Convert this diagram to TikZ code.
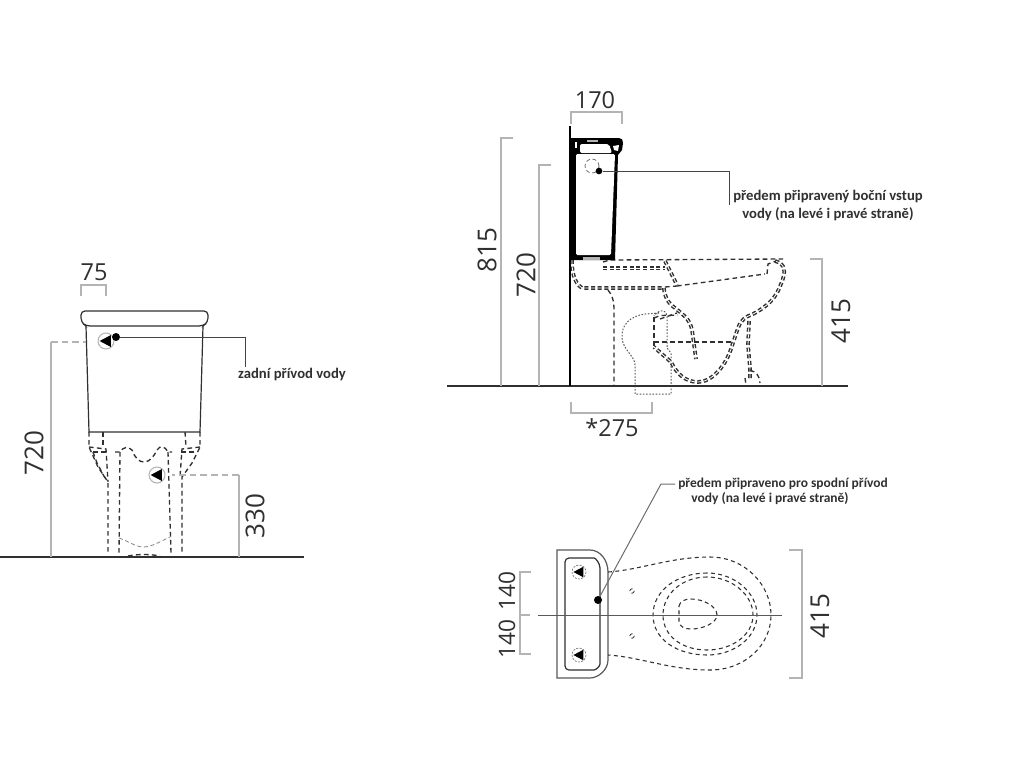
\documentclass[tikz,border=0pt]{standalone}
\usepackage{fontspec}
\setmainfont{Open Sans}
\newfontfamily\labelfont{Carlito}
\usepackage{tikz}
\usetikzlibrary{positioning}
\definecolor{dimgrey}{HTML}{B4B4B4}
\definecolor{inkgrey}{HTML}{303030}

% Inlet symbol: circle with a black triangle
\newcommand{\inletmark}[4]{%
    \draw[#4] (#1,#2) circle (#3);
    \fill[black] (#1-0.8*#3,#2) -- (#1+0.62*#3,#2-0.75*#3) -- (#1+0.62*#3,#2+0.75*#3) -- cycle;
}

\begin{document}
\begin{tikzpicture}[x=0.75pt,y=-0.75pt]

    % Custom styles
    \tikzstyle{dimline} = [draw=dimgrey, line width=0.9pt]
    \tikzstyle{dimdash} = [draw=dimgrey, line width=0.9pt, dash pattern=on 5pt off 3pt]
    \tikzstyle{dimtext} = [font=\fontsize{17.6}{20}\selectfont, text=inkgrey, inner sep=0pt]
    \tikzstyle{dimtextup} = [font=\fontsize{19.5}{22}\selectfont, text=inkgrey, inner sep=0pt, rotate=90]
    \tikzstyle{plain} = [font=\labelfont\bfseries\fontsize{11}{13.5}\selectfont, align=center, inner sep=0pt, text=inkgrey]
    \tikzstyle{floorline} = [draw=inkgrey, line width=1.9pt]
    \tikzstyle{outline} = [draw=inkgrey, line width=0.9pt]
    \tikzstyle{leader} = [draw=inkgrey!90, line width=0.75pt]
    \tikzstyle{hidden} = [draw=inkgrey, line width=1pt, dash pattern=on 3.5pt off 2.5pt]
    \tikzstyle{hiddenplan} = [draw=inkgrey, line width=0.8pt, dash pattern=on 3pt off 2.5pt]
    \tikzstyle{hiddenthin} = [draw=inkgrey, line width=0.6pt, dash pattern=on 3pt off 2pt]
    \tikzstyle{ladder} = [draw=inkgrey, line width=1.1pt, dash pattern=on 3pt off 2pt, double=white, double distance=0.6pt]
    \tikzstyle{dotted pipe} = [draw=inkgrey!80, line width=0.75pt, dash pattern=on 1.2pt off 1.2pt]
    \tikzstyle{endpoint} = [circle, fill=black, inner sep=0pt, minimum size=6pt]

    \useasboundingbox (0,0) rectangle (1024,768);
    \fill[white] (0,0) rectangle (1024,768);

    % Front view
    \draw[floorline] (0,557) -- (304,557);
    \draw[dimline] (81,296) -- (81,285) -- (106,285) -- (106,296);
    \node[dimtext] (frontwidth) at (94,272) {75};
    \draw[outline, rounded corners=3pt] (86,326) -- (81,322) -- (81,311) -- (208,311) -- (208,322) -- (203,326) -- cycle;
    \draw[outline] (86,326) -- (89,432) -- (200,432) -- (203,326);
    \inletmark{106}{341}{8}{draw=dimgrey, line width=0.8pt}
    \inletmark{157}{475}{8}{draw=dimgrey, line width=0.8pt}

    \draw[hidden] (89,432) -- (89,447) -- (98,467) -- (108,482) -- (108,553);
    \draw[hidden] (200,432) -- (200,447) -- (192,463) -- (182,477) -- (182,553);
    \draw[hidden] (103,432) -- (103,447);
    \draw[hidden] (185,432) -- (186,447);
    \draw[hidden] (89,447) -- (106,449) -- (108,482);
    \draw[hidden] (93,452) -- (108,452);
    \draw[hidden] (93,452) -- (97,463) -- (106,480);
    \draw[hidden] (200,447) -- (182,449) -- (180,477);
    \draw[hidden] (194,452) -- (180,452);
    \draw[hidden] (120,452) -- (119,553);
    \draw[hidden] (168,452) -- (171,553);
    \draw[hidden] (115,452) -- (120,452) .. controls (123,447) and (128,446) .. (132,450) .. controls (135,458) and (139,462) .. (144,462) .. controls (150,462) and (154,456) .. (157,450) .. controls (160,445) and (165,446) .. (168,452) -- (172,452);
    \draw[hiddenthin, draw=inkgrey!60] (119,538) .. controls (128,541) and (136,547) .. (143,547) .. controls (152,547) and (161,541) .. (170,537);
    \draw[hidden] (128,556) .. controls (138,554) and (150,554) .. (160,556);

    % Front view dimensions
    \draw[dimline] (51,557) -- (51,342);
    \draw[dimdash] (51,342) -- (86,342);
    \node[dimtextup] (frontheight) at (34,453) {720};
    \draw[dimline] (239,557) -- (239,475);
    \draw[dimdash] (239,475) -- (172,475);
    \node[dimtextup] (frontinlet) at (255,516) {330};

    % Front view leader
    \node[endpoint] (frontdot) at (116,337) {};
    \node[plain] (frontlabel) at (292,374) {zadní přívod vody};
    \coordinate (frontbend) at (245,337);
    \coordinate (frontend) at (245,367);
    \draw[leader] (frontdot) -- (frontbend) -- (frontend);

    % Side view, dashed bowl
    \draw[hidden] (603,262) -- (610,260) -- (783,259);
    \draw[ladder] (572,260) .. controls (572,270) and (573,282) .. (582,288) -- (662,288);
    \draw[ladder] (603,268) -- (665,268);
    \draw[hidden] (608,290) .. controls (612,295) and (614,300) .. (614,310) -- (614,385);
    \draw[ladder] (665,261) -- (677,285);
    \draw[hidden] (677,286) -- (765,274);
    \draw[hidden] (665,287) -- (677,286);
    \draw[ladder] (775,261) .. controls (786,264) and (786,272) .. (781,284) .. controls (776,298) and (768,306) .. (753,314) .. controls (745,317) and (741,320) .. (738,328) -- (732,346) .. controls (726,366) and (712,382) .. (698,382) .. controls (684,382) and (676,372) .. (671,362) -- (654,347);
    \draw[hidden] (767,274) -- (768,264) -- (776,261);
    \draw[ladder] (664,288) .. controls (664,296) and (668,303) .. (675,308) .. controls (685,316) and (690,320) .. (692,330) -- (696,359);
    \draw[ladder] (749,321) -- (748,345) -- (750,368) -- (750,378);
    \draw[hidden] (750,370) .. controls (756,372) and (760,376) .. (760,383);
    \draw[hidden] (745,378) -- (746,385);
    \draw[hidden] (654,317) -- (654,346);
    \draw[hidden] (654,318) .. controls (660,314) and (668,316) .. (678,315);
    \draw[hidden] (660,319) -- (677,313);
    \draw[hidden] (654,342) -- (733,342);
    \draw[dotted pipe] (659,313) -- (645,314) .. controls (630,316) and (621,325) .. (622,338) .. controls (623,350) and (635,356) .. (635,365) -- (635,394) -- (671,394) -- (671,353) -- (667,348) -- (667,316) .. controls (667,310) and (660,308) .. (654,316);
    \draw[floorline] (447,386) -- (848,386);

    % Side view, tank
    \fill[black] (570,138) -- (619,138) .. controls (622,138) and (623,140) .. (623,143) -- (622,150) -- (618,155) -- (615,260) -- (570,260) -- cycle;
    \draw[floorline, line width=2.2pt, draw=black] (570,126) -- (570,386);
    \fill[white, rounded corners=1pt] (576,154) -- (615,154) -- (611,255) -- (576,255) -- cycle;
    \fill[white, rounded corners=1.5pt] (580,144) -- (609,144) -- (612,153) -- (580,153) -- cycle;
    \fill[white] (613,146) -- (619,145) -- (618,151) -- (614,150) -- cycle;
    \fill[white] (575,142) -- (577,142) -- (577,148) -- (575,148) -- cycle;
    \fill[dimgrey] (587,140) rectangle (598,142);
    \fill[dimgrey] (583,257) rectangle (600,260);
    \draw[hiddenthin, draw=inkgrey!70] (592,166) circle (7);

    % Side view dimensions
    \draw[dimline] (571,124) -- (571,112) -- (622,112) -- (622,124);
    \node[dimtext] (sidewidth) at (595,100) {170};
    \draw[dimline] (513,138) -- (501,138) -- (501,386);
    \node[dimtextup] (sideheight) at (487,250) {815};
    \draw[dimline] (551,165) -- (539,165) -- (539,386);
    \node[dimtextup] (sidetank) at (526,275) {720};
    \draw[dimline] (810,259) -- (822,259) -- (822,386);
    \node[dimtextup] (siderim) at (841,321) {415};
    \draw[dimline] (571,402) -- (571,413) -- (652,413) -- (652,402);
    \node[dimtext] (sidedepth) at (612,428) {*275};

    % Side view leader
    \node[endpoint, minimum size=5pt] (sidedot) at (599,171) {};
    \node[plain] (sidelabel) at (828,206) {předem připravený boční vstup\\vody (na levé i pravé straně)};
    \coordinate (sidebend) at (729,171);
    \coordinate (sideend) at (729,205);
    \draw[leader] (sidedot) -- (sidebend) -- (sideend);

    % Plan view
    \draw[outline, draw=inkgrey!80] (557,550) -- (590,550) .. controls (600,550) and (608,560) .. (608,572) -- (608,660) .. controls (608,670) and (598,678) .. (590,678) -- (557,678) -- cycle;
    \draw[outline, rounded corners=3pt] (565,558) -- (590,558) .. controls (596,558) and (600,564) .. (600,572) -- (600,660) .. controls (600,666) and (596,670) .. (590,670) -- (565,670) -- cycle;
    \inletmark{579}{572}{7}{draw=inkgrey!70, line width=0.5pt, dash pattern=on 1.5pt off 1pt}
    \inletmark{579}{655}{7}{draw=inkgrey!70, line width=0.5pt, dash pattern=on 1.5pt off 1pt}
    \draw[hiddenplan] (608,572) .. controls (640,570) and (670,557) .. (710,557) .. controls (745,557) and (771,585) .. (771,615) .. controls (771,645) and (745,670) .. (710,670) .. controls (670,670) and (640,657) .. (608,655);
    \draw[hiddenplan] (707,573) .. controls (678,573) and (653,590) .. (653,615) .. controls (653,640) and (678,655) .. (707,655) .. controls (735,655) and (757,637) .. (757,615) .. controls (757,593) and (735,573) .. (707,573);
    \draw[hiddenplan] (707,577) .. controls (682,577) and (663,594) .. (663,615) .. controls (663,636) and (682,650) .. (707,650) .. controls (732,650) and (753,635) .. (753,615) .. controls (753,595) and (732,577) .. (707,577);
    \draw[hiddenplan] (679,606) .. controls (680,601) and (685,599) .. (691,599) .. controls (703,599) and (717,606) .. (717,615) .. controls (717,623) and (703,629) .. (691,629) .. controls (685,629) and (680,627) .. (679,622) -- cycle;
    \draw[hiddenthin] (632,591) circle (2.2);
    \draw[hiddenthin] (632,636) circle (2.2);
    \draw[outline, draw=inkgrey!80, line width=0.7pt] (538,615) -- (782,615);

    % Plan view dimensions
    \draw[dimline] (531,572) -- (520,572) -- (520,654) -- (531,654);
    \draw[dimline] (520,615) -- (530,615);
    \node[dimtextup, font=\fontsize{17}{20}\selectfont] (plantop) at (507,591) {140};
    \node[dimtextup, font=\fontsize{17}{20}\selectfont] (planbottom) at (507,639) {140};
    \draw[dimline] (789,550) -- (802,550) -- (802,678) -- (789,678);
    \node[dimtextup] (planwidth) at (820,616) {415};

    % Plan view leader
    \node[endpoint] (plandot) at (598,600) {};
    \node[plain, font=\labelfont\bfseries\fontsize{10.1}{11.5}\selectfont] (planlabel) at (783,491) {předem připraveno pro spodní přívod\\\mbox{vody (na levé i pravé straně)\hspace{19.5pt}}};
    \coordinate (planbend) at (661,484);
    \coordinate (planend) at (675,484);
    \draw[leader, draw=inkgrey!70] (plandot) -- (planbend) -- (planend);

\end{tikzpicture}
\end{document}
